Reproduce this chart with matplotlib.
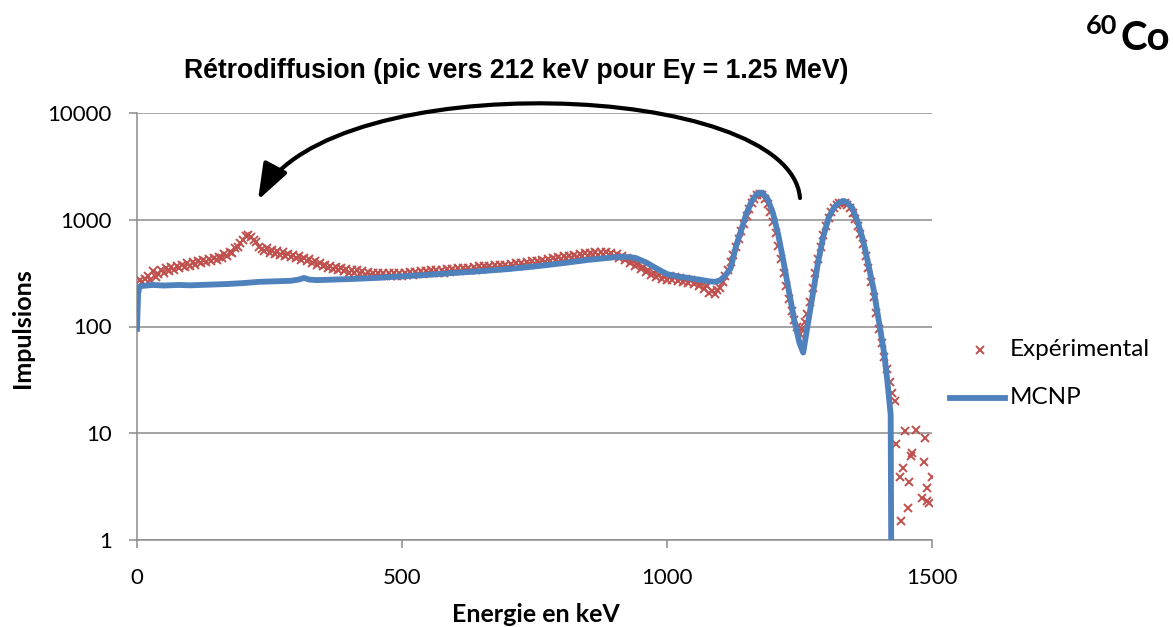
import numpy as np
import matplotlib
matplotlib.use("Agg")
import matplotlib.pyplot as plt
from matplotlib.patches import FancyArrowPatch
from matplotlib.path import Path
from matplotlib.lines import Line2D

# experimental spectrum, 5 keV steps from 0 to 1430 keV
exp_energy = np.arange(0, 1435, 5)
exp_counts = [
    230, 270, 260, 280, 300, 270, 330, 290, 310, 340, 320, 350, 330, 360, 340, 370, 350, 380, 360, 390,
    370, 400, 380, 410, 390, 420, 400, 430, 410, 440, 420, 450, 440, 480, 460, 500, 490, 540, 560, 600,
    640, 700, 720, 690, 650, 620, 560, 530, 510, 540, 490, 520, 480, 510, 470, 500, 460, 480, 450, 470,
    440, 460, 420, 440, 410, 430, 390, 410, 380, 395, 370, 380, 355, 370, 345, 360, 335, 350, 330, 345,
    320, 340, 315, 335, 310, 330, 305, 325, 300, 320, 300, 320, 295, 315, 300, 320, 295, 315, 300, 320,
    300, 320, 305, 325, 305, 325, 310, 330, 310, 330, 315, 335, 315, 335, 320, 340, 320, 345, 325, 345,
    330, 350, 330, 355, 335, 355, 340, 360, 340, 365, 345, 365, 350, 370, 350, 375, 355, 375, 360, 380,
    360, 385, 365, 390, 370, 395, 375, 400, 380, 410, 385, 415, 395, 420, 400, 430, 410, 440, 420, 450,
    430, 455, 435, 460, 440, 470, 450, 480, 455, 485, 460, 490, 465, 495, 470, 500, 470, 495, 465, 490,
    455, 475, 440, 460, 420, 440, 395, 410, 370, 385, 345, 360, 325, 340, 305, 320, 290, 305, 280, 300,
    275, 295, 270, 290, 265, 285, 260, 280, 255, 275, 250, 265, 240, 255, 225, 240, 205, 215, 200, 220,
    230, 260, 300, 340, 400, 470, 560, 660, 780, 920, 1080, 1250, 1420, 1580, 1700, 1750, 1700, 1580, 1400, 1180,
    950, 750, 570, 430, 320, 240, 180, 140, 115, 100, 85, 95, 110, 130, 170, 230, 320, 430, 560, 720,
    880, 1040, 1180, 1300, 1380, 1420, 1440, 1420, 1370, 1280, 1160, 1020, 880, 730, 590, 460, 350, 260, 190, 135,
    95, 70, 52, 40, 30, 24, 20,
]
# scattered counts above the end point
tail_energy = [1433, 1440, 1441, 1445, 1449, 1455, 1457, 1460, 1463, 1470, 1481, 1485, 1487, 1490, 1490, 1495, 1500]
tail_counts = [7.9, 3.9, 1.5, 4.7, 10.5, 2.0, 3.5, 6.1, 6.5, 10.7, 2.46, 5.4, 9.0, 3.05, 2.3, 2.2, 3.9]

# MCNP simulation
mcnp_energy = [0, 2, 4, 10, 30, 50, 80, 100, 130, 150, 170, 200, 230, 260, 290, 305, 315, 325, 340,
               400, 450, 500, 550, 600, 650, 700, 750, 800, 850, 900, 920, 940, 960, 980, 1000, 1020,
               1040, 1060, 1080, 1090, 1100, 1110, 1120, 1130, 1140, 1150, 1160, 1170, 1175, 1180, 1190,
               1200, 1210, 1220, 1230, 1240, 1250, 1257, 1265, 1275, 1285, 1295, 1305, 1315, 1325, 1333,
               1340, 1350, 1360, 1370, 1380, 1390, 1400, 1410, 1416, 1422, 1423]
mcnp_counts = [95, 200, 235, 240, 245, 242, 245, 243, 246, 248, 250, 255, 262, 265, 268, 275, 285, 275, 272,
               278, 285, 295, 305, 318, 330, 345, 365, 390, 420, 445, 450, 440, 400, 350, 310, 295,
               285, 275, 265, 262, 270, 300, 350, 560, 800, 1150, 1500, 1750, 1800, 1780, 1560,
               1150, 720, 400, 215, 115, 70, 57, 100, 200, 400, 700, 1050, 1300, 1450, 1500,
               1450, 1280, 950, 640, 380, 220, 110, 55, 30, 15, 1]

red = '#C0504D'
blue = '#4F81BD'
grey = '#8c8c8c'
W, H = 1173, 627
font = 'Lato'

fig = plt.figure(figsize=(W / 100, H / 100), dpi=100)
ax = fig.add_axes([137 / W, 1 - 540 / H, (932 - 137) / W, (540 - 113) / H])

ax.plot(exp_energy, exp_counts, 'x', color=red, ms=6, mew=1.4, zorder=3)
ax.plot(tail_energy, tail_counts, 'x', color=red, ms=6, mew=1.4, zorder=3)
ax.plot(mcnp_energy, mcnp_counts, '-', color=blue, lw=4.2, zorder=4)

ax.set_yscale('log')
ax.set_ylim(1, 10000)
ax.set_xlim(0, 1500)
ax.set_yticks([1, 10, 100, 1000, 10000])
ax.set_yticklabels(['1', '10', '100', '1000', '10000'])
ax.set_xticks([0, 500, 1000, 1500])
ax.minorticks_off()
ax.yaxis.grid(True, color=grey, lw=1.1)
ax.set_axisbelow(True)
for s in ['top', 'right']:
    ax.spines[s].set_visible(False)
for s in ['left', 'bottom']:
    ax.spines[s].set_color(grey)
    ax.spines[s].set_linewidth(1.1)
ax.tick_params(axis='both', direction='out', length=6, width=1.1, color=grey, labelsize=16)
ax.tick_params(axis='y', pad=12)
ax.tick_params(axis='x', pad=14)
for lab in ax.get_xticklabels() + ax.get_yticklabels():
    lab.set_family(font)

fig.text(536 / W, 1 - 615 / H, 'Energie en keV', ha='center', va='center',
         fontsize=18, fontweight='bold', family=font)
fig.text(23 / W, 1 - 328 / H, 'Impulsions', ha='center', va='center', rotation=90,
         fontsize=18, fontweight='bold', family=font)

fig.text(516 / W, 1 - 71 / H, 'Rétrodiffusion (pic vers 212 keV pour Eγ = 1.25 MeV)',
         ha='center', va='center', fontsize=19.2, fontweight='bold',
         family=['Liberation Sans Narrow', 'Liberation Sans'])
fig.text(1086 / W, 1 - 34 / H, '60', ha='left', va='baseline',
         fontsize=19.5, fontweight='bold', family=font)
fig.text(1121 / W, 1 - 50 / H, 'Co', ha='left', va='baseline',
         fontsize=29, fontweight='bold', family=font)

# legend drawn by hand, Excel style
fig.add_artist(Line2D([980 / W], [1 - 350 / H], marker='x', color=red, ms=6, mew=1.4,
                      transform=fig.transFigure))
fig.text(1010 / W, 1 - 350 / H, 'Expérimental', ha='left', va='center', fontsize=17.5, family=font)
fig.add_artist(Line2D([950 / W, 1005 / W], [1 - 398 / H] * 2, color=blue, lw=4.2,
                      transform=fig.transFigure))
fig.text(1010 / W, 1 - 398 / H, 'MCNP', ha='left', va='center', fontsize=17.5, family=font)

# curved arrow over the plot
pts = [(800, 198), (790, 80), (330, 65), (258, 200)]
verts = [(x / W, 1 - y / H) for x, y in pts]
path = Path(verts, [Path.MOVETO, Path.CURVE4, Path.CURVE4, Path.CURVE4])
arrow = FancyArrowPatch(path=path, arrowstyle='-|>,head_length=1.1,head_width=0.4',
                        mutation_scale=20, lw=3, color='black', transform=fig.transFigure)
fig.add_artist(arrow)

fig.savefig('out.png', dpi=100)
